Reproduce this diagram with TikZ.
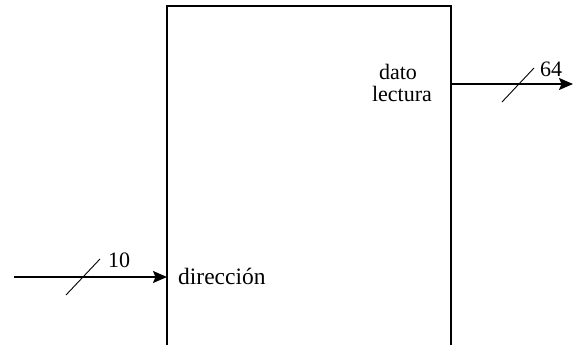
\documentclass[tikz,border=0pt]{standalone}
\usepackage{fontspec}
\setmainfont{Liberation Serif}
\usetikzlibrary{arrows.meta}
\begin{document}
\begin{tikzpicture}[x=1pt,y=-1pt,
  wire/.style={line width=1.5pt,-{Stealth[length=14pt,width=12pt,inset=2.5pt]}},
  bus/.style={line width=0.9pt},
  lbl/.style={font=\fontsize{22}{24}\selectfont,inner sep=0pt}]
\useasboundingbox (0,0) rectangle (573,345);
% memory block (its lower edge runs past the frame)
\draw[line width=1.5pt] (167,400) -- (167,6) -- (451,6) -- (451,400);
\coordinate (inL) at (167,277);
\coordinate (outR) at (451,84);
\coordinate (src) at (14,277);
\coordinate (dst) at (573,84);
% port labels
\node[lbl,font=\fontsize{23.5}{26}\selectfont,anchor=base west] (dir) at (178,284) {dirección};
\node[lbl,anchor=base] (dat1) at (398,80) {dato};
\node[lbl,anchor=base] (dat2) at (402,102) {lectura};
% address input, 10 bits
\draw[wire] (src) -- (inL);
\coordinate (s1a) at (66,295);
\coordinate (s1b) at (100,259);
\draw[bus] (s1a) -- (s1b);
\node[lbl,anchor=base west] (n10) at (108,267) {10};
% data output, 64 bits
\draw[wire] (outR) -- (dst);
\coordinate (s2a) at (502,102);
\coordinate (s2b) at (534,68);
\draw[bus] (s2a) -- (s2b);
\node[lbl,anchor=base west] (n64) at (540,77) {64};
\end{tikzpicture}
\end{document}
